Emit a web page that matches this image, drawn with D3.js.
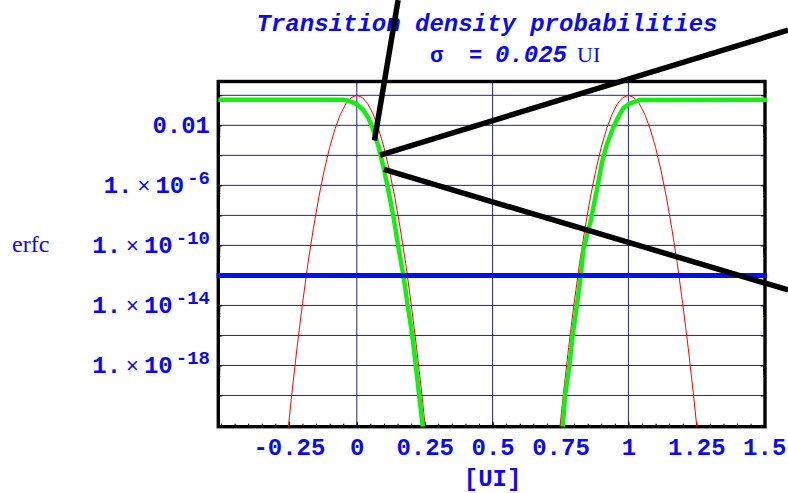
<!DOCTYPE html>
<html>
<head>
<meta charset="utf-8">
<script src="https://d3js.org/d3.v7.min.js"></script>
<style>
  body { margin: 0; background: #fff; }
  svg { display: block; }
</style>
</head>
<body>
<svg id="chart" width="788" height="493"></svg>
<script>
// values
const xTicks = [-0.25, 0, 0.25, 0.5, 0.75, 1, 1.25, 1.5]
const xTickLabels = ['-0.25', '0', '0.25', '0.5', '0.75', '1', '1.25', '1.5']
const yTicks = [1e-2, 1e-6, 1e-10, 1e-14, 1e-18]
const yTickMant = ['0.01', '1.', '1.', '1.', '1.']
const yTickExp = [null, '-6', '-10', '-14', '-18']
const gridY = [1, 1e-2, 1e-4, 1e-6, 1e-8, 1e-10, 1e-12, 1e-14, 1e-16, 1e-18, 1e-20]
const gridX = [0, 0.5, 1]

// thin red jitter densities (two transitions)
const redX1 = [-0.26, -0.24, -0.22, -0.2, -0.18, -0.16, -0.14, -0.12, -0.1, -0.08, -0.06, -0.04, -0.02, 0,
  0.02, 0.04, 0.06, 0.08, 0.1, 0.12, 0.14, 0.16, 0.18, 0.2, 0.22, 0.24, 0.26]
const redY1 = [3e-24, 1e-20, 1.6e-17, 1.3e-14, 6.3e-12, 1.3e-9, 1.6e-7, 1e-5, 3.4e-4, 6e-3, 0.056, 0.28, 0.72, 1,
  0.72, 0.28, 0.056, 6e-3, 3.4e-4, 1e-5, 1.6e-7, 1.3e-9, 6.3e-12, 1.3e-14, 1.6e-17, 1e-20, 3e-24]
const redX2 = [0.74, 0.76, 0.78, 0.8, 0.82, 0.84, 0.86, 0.88, 0.9, 0.92, 0.94, 0.96, 0.98, 1,
  1.02, 1.04, 1.06, 1.08, 1.1, 1.12, 1.14, 1.16, 1.18, 1.2, 1.22, 1.24, 1.26]
const redY2 = [3e-24, 1e-20, 1.6e-17, 1.3e-14, 6.3e-12, 1.3e-9, 1.6e-7, 1e-5, 3.4e-4, 6e-3, 0.056, 0.28, 0.72, 1,
  0.72, 0.28, 0.056, 6e-3, 3.4e-4, 1e-5, 1.6e-7, 1.3e-9, 6.3e-12, 1.3e-14, 1.6e-17, 1e-20, 3e-24]

// green erfc bathtub halves
const greenX1 = [-0.51, -0.049, -0.031, 0.0, 0.024, 0.043, 0.061, 0.080, 0.098, 0.116, 0.135, 0.153, 0.172,
  0.187, 0.203, 0.218, 0.230, 0.243]
const greenY1 = [0.5, 0.5, 0.44, 0.26, 0.105, 0.03, 4.9e-3, 3.8e-4, 1.7e-5, 4.9e-7, 8.1e-9, 8.1e-11, 9e-13,
  1.1e-14, 1.4e-16, 8.3e-19, 8.3e-21, 8.3e-23]
const greenX2 = [0.758, 0.767, 0.783, 0.795, 0.810, 0.825, 0.834, 0.859, 0.884, 0.902, 0.920, 0.945, 0.963,
  0.981, 1.006, 1.043, 1.51]
const greenY2 = [8.3e-23, 1e-20, 1e-18, 1.1e-16, 9e-15, 1.1e-12, 5e-11, 3e-9, 4.9e-7, 3e-5, 4.9e-4, 8.1e-3, 0.037,
  0.135, 0.295, 0.49, 0.5]

const berTarget = 1e-12

// black pointer lines [from, to] in data units
const pointers = [
  [[0.152, 2.2e6], [0.065, 9.8e-4]],
  [[1.588, 2.2e4], [0.086, 1.05e-4]],
  [[0.100, 1.15e-5], [1.588, 1.07e-13]]
]

const blue = '#0a0af0'
const mono = '"Liberation Mono", "Courier New", monospace'
const serif = '"Liberation Serif", "Times New Roman", serif'

const svg = d3.select('#chart')

const x = d3.scaleLinear().domain([-0.51, 1.503]).range([218.3, 765])
const y = d3.scaleLog().domain([Math.pow(10, -22.08), Math.pow(10, 0.92)]).range([426.7, 81.5])
const [x0, x1] = x.range()
const [yB, yT] = y.range()

svg.append('rect').attr('width', 788).attr('height', 493).attr('fill', '#fff')

// grid
svg.append('g')
  .selectAll('line')
  .data(gridY)
  .enter()
  .append('line')
  .attr('x1', x0).attr('x2', x1)
  .attr('y1', d => y(d)).attr('y2', d => y(d))
  .style('stroke', '#22228a')
  .style('stroke-width', 1)

svg.append('g')
  .selectAll('line')
  .data(gridX)
  .enter()
  .append('line')
  .attr('x1', d => x(d)).attr('x2', d => x(d))
  .attr('y1', yT).attr('y2', yB)
  .style('stroke', '#22228a')
  .style('stroke-width', 1)

// tick marks pointing into the frame
const xMinor = d3.range(-0.5, 1.5001, 0.05)
svg.append('g')
  .attr('transform', `translate(0,${yB})`)
  .call(d3.axisTop(x).tickValues(xMinor).tickSize(3).tickFormat(''))
  .call(g => g.select('.domain').remove())
svg.append('g')
  .attr('transform', `translate(0,${yB})`)
  .call(d3.axisTop(x).tickValues(xTicks).tickSize(5).tickFormat(''))
  .call(g => g.select('.domain').remove())

const yMinor = []
yTicks.forEach(t => { for (let j = 2; j < 10; j++) yMinor.push(t * j / 10) })
;[[x0, d3.axisRight], [x1, d3.axisLeft]].forEach(([pos, ax]) => {
  svg.append('g')
    .attr('transform', `translate(${pos},0)`)
    .call(ax(y).tickValues(yMinor).tickSize(2).tickFormat(''))
    .call(g => g.select('.domain').remove())
  svg.append('g')
    .attr('transform', `translate(${pos},0)`)
    .call(ax(y).tickValues(gridY).tickSize(4).tickFormat(''))
    .call(g => g.select('.domain').remove())
})

// frame
svg.append('rect')
  .attr('x', x0).attr('y', yT)
  .attr('width', x1 - x0).attr('height', yB - yT)
  .style('fill', 'none')
  .style('stroke', 'black')
  .style('stroke-width', 3.4)

// curves, clipped to the frame height
svg.append('clipPath').attr('id', 'clip')
  .append('rect')
  .attr('x', x0 - 2).attr('y', yT)
  .attr('width', x1 - x0 + 4).attr('height', yB - yT)

const plot = svg.append('g').attr('clip-path', 'url(#clip)')
const line = d3.line().x(d => x(d[0])).y(d => y(d[1]))

;[[redX1, redY1], [redX2, redY2]].forEach(([xs, ys]) => {
  plot.append('path')
    .datum(xs.map((v, i) => [v, ys[i]]))
    .attr('d', line)
    .style('fill', 'none')
    .style('stroke', '#ff0000')
    .style('stroke-width', 1)
})

;[[greenX1, greenY1], [greenX2, greenY2]].forEach(([xs, ys]) => {
  plot.append('path')
    .datum(xs.map((v, i) => [v, ys[i]]))
    .attr('d', line)
    .style('fill', 'none')
    .style('stroke', '#12f012')
    .style('stroke-width', 4.5)
    .style('stroke-linejoin', 'round')
})

plot.append('line')
  .attr('x1', x0 - 2).attr('x2', x1 + 2)
  .attr('y1', y(berTarget)).attr('y2', y(berTarget))
  .style('stroke', '#0410f2')
  .style('stroke-width', 5)

// x labels
svg.append('g')
  .attr('transform', `translate(0,${yB})`)
  .call(d3.axisBottom(x).tickValues(xTicks).tickFormat((d, i) => xTickLabels[i]).tickSize(0).tickPadding(11))
  .call(g => g.select('.domain').remove())
  .call(g => g.selectAll('text')
    .style('fill', blue)
    .style('font-family', mono)
    .style('font-weight', 'bold')
    .style('font-size', '24px'))

// y labels
const yl = svg.append('g')
  .style('fill', blue)
  .style('font-family', mono)
  .style('font-weight', 'bold')
  .style('font-size', '24px')
yTicks.forEach((t, i) => {
  const txt = yl.append('text')
    .attr('x', 210)
    .attr('y', y(t) + 8)
    .attr('text-anchor', 'end')
  txt.append('tspan').text(yTickMant[i])
  if (yTickExp[i]) {
    txt.append('tspan').attr('dx', 5)
      .style('font-family', '"Liberation Sans", sans-serif')
      .style('font-weight', 'normal')
      .style('font-size', '22px')
      .text('\u00d7')
    txt.append('tspan').attr('dx', 5).text('10')
    txt.append('tspan').attr('dx', 3).attr('dy', -9)
      .style('font-size', '19px')
      .text(yTickExp[i])
  }
})

svg.append('text')
  .attr('x', 12).attr('y', 252)
  .style('fill', blue)
  .style('font-family', serif)
  .style('font-size', '24px')
  .text('erfc')

svg.append('text')
  .attr('x', x(0.5)).attr('y', 486)
  .attr('text-anchor', 'middle')
  .style('fill', blue)
  .style('font-family', mono)
  .style('font-weight', 'bold')
  .style('font-size', '24px')
  .text('[UI]')

// title
svg.append('text')
  .attr('x', 487).attr('y', 31)
  .attr('text-anchor', 'middle')
  .style('fill', blue)
  .style('font-family', mono)
  .style('font-weight', 'bold')
  .style('font-style', 'italic')
  .style('font-size', '24px')
  .text('Transition density probabilities')

const sub = svg.append('text')
  .attr('y', 62)
  .style('fill', blue)
  .style('font-family', mono)
  .style('font-weight', 'bold')
  .style('font-size', '22px')
sub.append('tspan').attr('x', 430).text('\u03c3')
sub.append('tspan').attr('x', 469).text('=')
sub.append('tspan').attr('x', 495).style('font-style', 'italic').style('font-size', '24px').text('0.025')
sub.append('tspan').attr('x', 577)
  .style('font-family', serif).style('font-weight', 'normal').style('font-size', '22px')
  .text('UI')

// pointer lines on top of everything
svg.append('g')
  .selectAll('line')
  .data(pointers)
  .enter()
  .append('line')
  .attr('x1', d => x(d[0][0])).attr('y1', d => y(d[0][1]))
  .attr('x2', d => x(d[1][0])).attr('y2', d => y(d[1][1]))
  .style('stroke', 'black')
  .style('stroke-width', 5.5)
</script>
</body>
</html>
